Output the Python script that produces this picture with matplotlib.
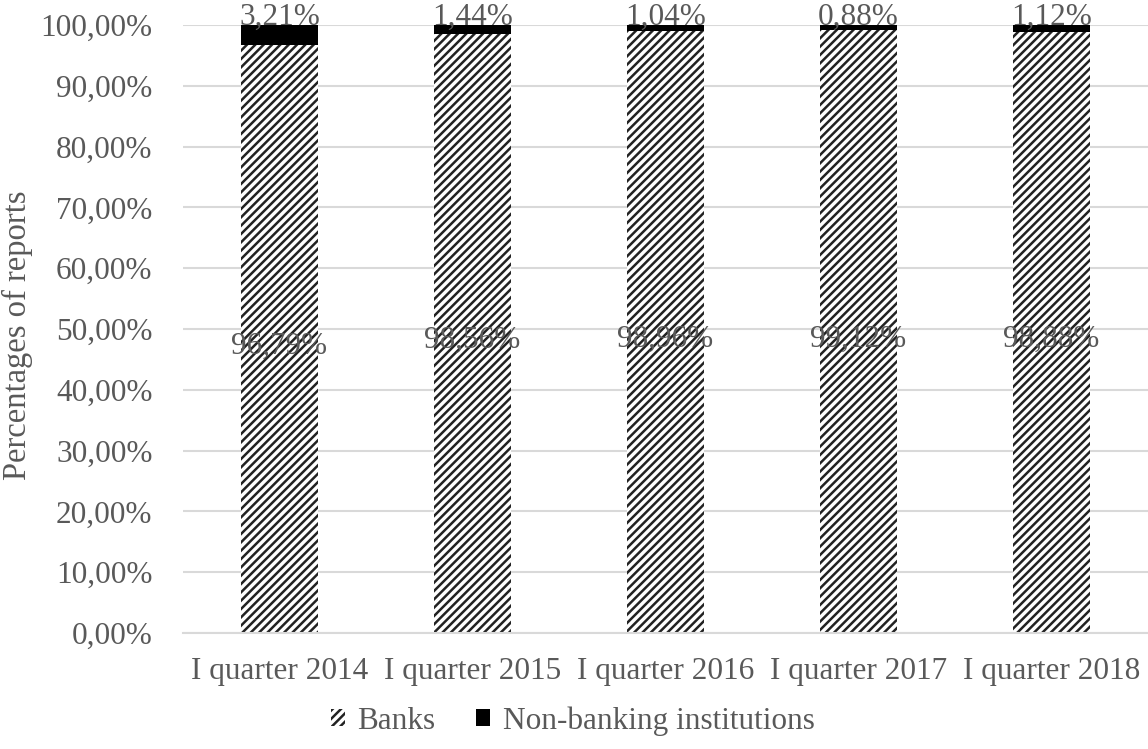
import matplotlib
matplotlib.use("Agg")
import matplotlib.pyplot as plt
from matplotlib.ticker import FuncFormatter

# Data
categories = ['I quarter 2014', 'I quarter 2015', 'I quarter 2016', 'I quarter 2017', 'I quarter 2018']
banks = [96.79, 98.56, 98.96, 99.12, 98.88]
non_banking = [3.21, 1.44, 1.04, 0.88, 1.12]

plt.rcParams['font.family'] = ['Liberation Serif', 'DejaVu Serif']
plt.rcParams['hatch.linewidth'] = 1.8
grey = '#595959'

fig = plt.figure(figsize=(11.48, 7.49), dpi=100)
ax = fig.add_axes([183 / 1148, 1 - 633 / 749, (1148 - 183) / 1148, (633 - 25) / 749])

x = range(len(categories))
ax.bar(x, banks, width=0.4, color='white', edgecolor='#222222', hatch='////', linewidth=0, label='Banks')
ax.bar(x, non_banking, width=0.4, bottom=banks, color='black', linewidth=0, label='Non-banking institutions')

# data labels
for i in x:
    ax.text(i, banks[i] / 2 - 1.2, ('%.2f%%' % banks[i]).replace('.', ','), ha='center', va='center',
            fontsize=22.5, color=grey)
    ax.text(i, 100.0, ('%.2f%%' % non_banking[i]).replace('.', ','), ha='center', va='baseline',
            fontsize=22.5, color=grey, clip_on=False)

ax.set_ylim(0, 100)
ax.set_xlim(-0.5, len(categories) - 0.5)
ax.set_yticks(range(0, 101, 10))
ax.yaxis.set_major_formatter(FuncFormatter(lambda v, p: ('%.2f%%' % v).replace('.', ',')))
ax.set_xticks(list(x))
ax.set_xticklabels(categories)
ax.tick_params(axis='both', length=0, labelsize=22.5, labelcolor=grey)
ax.tick_params(axis='y', pad=22)
ax.tick_params(axis='x', pad=17)
ax.grid(axis='y', color='#d9d9d9', linewidth=1.5)
ax.set_axisbelow(True)
for s in ['top', 'right', 'left']:
    ax.spines[s].set_visible(False)
ax.spines['bottom'].set_color('#d9d9d9')
ax.spines['bottom'].set_linewidth(1.5)

ax.set_ylabel('Percentages of reports', fontsize=23.5, color=grey)
ax.yaxis.set_label_coords(-150 / 965, 0.49)

fig.legend(loc='lower center', bbox_to_anchor=(0.499, -0.02), ncol=2, frameon=False,
           fontsize=22.5, labelcolor=grey, handlelength=0.45, handleheight=0.45,
           handletextpad=0.4, columnspacing=1.3)

fig.savefig('out.png', dpi=100)
